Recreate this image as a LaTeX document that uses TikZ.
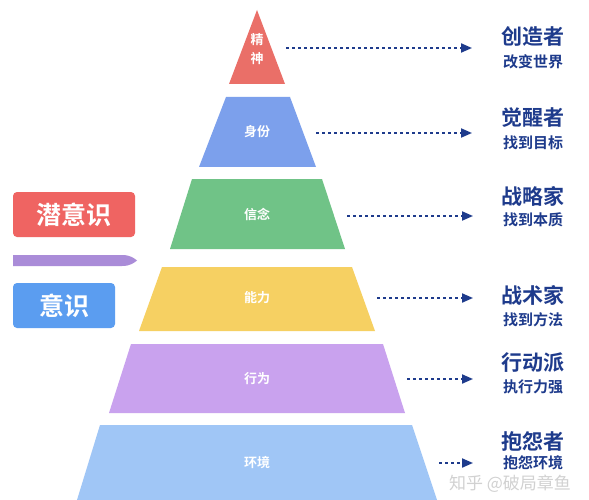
\documentclass[tikz,border=0pt]{standalone}
\usepackage{fontspec}
\setmainfont{Noto Sans CJK SC}[BoldFont={Noto Sans CJK SC Bold}]
\usetikzlibrary{arrows.meta}
\definecolor{cRed}{HTML}{EA6F68}
\definecolor{cPeri}{HTML}{7CA0EC}
\definecolor{cGreen}{HTML}{70C387}
\definecolor{cYellow}{HTML}{F6D062}
\definecolor{cPurple}{HTML}{C9A2EE}
\definecolor{cSky}{HTML}{A0C6F6}
\definecolor{cLabRed}{HTML}{EF6462}
\definecolor{cLabBlue}{HTML}{5B9DF0}
\definecolor{cBar}{HTML}{AA8CD8}
\definecolor{cNavy}{HTML}{1E3B8C}
\tikzset{
  inner/.style={text=white,font=\bfseries\fontsize{13}{14}\selectfont,inner sep=0pt},
  bigtxt/.style={text=cNavy,font=\bfseries\fontsize{21}{22}\selectfont,inner sep=0pt},
  smalltxt/.style={text=cNavy,font=\bfseries\fontsize{15}{16}\selectfont,inner sep=0pt},
  conn/.style={cNavy,line width=2pt,dash pattern=on 2.5pt off 3.5pt,-{Triangle[length=11pt,width=9pt]}},
  tag/.style={rounded corners=4pt,text=white,font=\bfseries\fontsize{25}{26}\selectfont,inner sep=0pt},
}
\begin{document}
\begin{tikzpicture}[x=1pt,y=-1pt]
\useasboundingbox (0,0) rectangle (589,500);
\fill[white] (0,0) rectangle (589,500);
% pyramid levels
\fill[cRed] (257,10) -- (285,84) -- (229,84) -- cycle;
\fill[cPeri] (226,97) -- (290,97) -- (316,167) -- (199,167) -- cycle;
\fill[cGreen] (192,179) -- (322,179) -- (345,249) -- (170,249) -- cycle;
\fill[cYellow] (162,267) -- (352,267) -- (375,331) -- (139,331) -- cycle;
\fill[cPurple] (131,344) -- (383,344) -- (405,413) -- (109,413) -- cycle;
\fill[cSky] (100,425) -- (412,425) -- (437,500) -- (77,500) -- cycle;
% inner labels
\node[inner] (l1a) at (257,40) {精};
\node[inner] (l1b) at (257,59) {神};
\node[inner] (l2) at (257,132) {身份};
\node[inner] (l3) at (257,214) {信念};
\node[inner] (l4) at (257,298) {能力};
\node[inner] (l5) at (257,379) {行为};
\node[inner] (l6) at (257,463) {环境};
% right labels
\node[bigtxt] (r1) at (533,37) {创造者};
\node[smalltxt] (s1) at (533,62) {改变世界};
\node[bigtxt] (r2) at (533,118) {觉醒者};
\node[smalltxt] (s2) at (533,143) {找到目标};
\node[bigtxt] (r3) at (533,196) {战略家};
\node[smalltxt] (s3) at (533,220) {找到本质};
\node[bigtxt] (r4) at (533,295) {战术家};
\node[smalltxt] (s4) at (533,320) {找到方法};
\node[bigtxt] (r5) at (533,363) {行动派};
\node[smalltxt] (s5) at (533,387) {执行力强};
\node[bigtxt] (r6) at (533,441) {抱怨者};
\node[smalltxt] (s6) at (533,463) {抱怨环境};
% connector endpoints
\coordinate (a1) at (286,48);  \coordinate (b1) at (472,48);
\coordinate (a2) at (316,133); \coordinate (b2) at (472,133);
\coordinate (a3) at (347,216); \coordinate (b3) at (473,216);
\coordinate (a4) at (377,298); \coordinate (b4) at (473,298);
\coordinate (a5) at (407,379); \coordinate (b5) at (473,379);
\coordinate (a6) at (439,463); \coordinate (b6) at (473,463);
\foreach \i in {1,...,6} \draw[conn] (a\i) -- (b\i);
% left tags
\node[tag,fill=cLabRed,minimum width=122pt,minimum height=45pt] (sub) at (74,214.5) {潜意识};
\fill[cBar] (13,255) -- (122,255) .. controls (130,255) and (134,258) .. (137,260.5) .. controls (134,263) and (130,266) .. (122,266) -- (13,266) -- cycle;
\node[tag,fill=cLabBlue,minimum width=102pt,minimum height=45pt] (con) at (64,305.5) {意识};
% watermark
\node[text=gray!45,opacity=0.8,font=\fontsize{17}{18}\selectfont,inner sep=0pt] (wm) at (510,484) {知乎 @破局章鱼};
\end{tikzpicture}
\end{document}
